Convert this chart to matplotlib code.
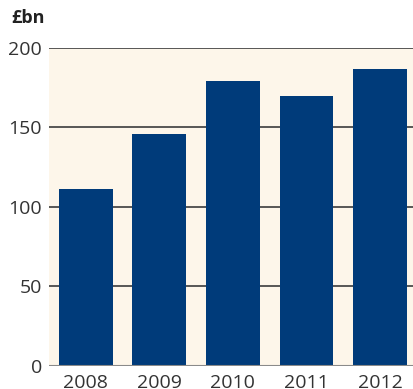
import matplotlib.pyplot as plt

years = ['2008', '2009', '2010', '2011', '2012']
values = [111, 146, 179, 170, 187]
yticks = [0, 50, 100, 150, 200]

plt.rcParams['font.family'] = ['Open Sans', 'DejaVu Sans']

fig = plt.figure(figsize=(4.14, 3.89), dpi=100)
ax = fig.add_axes([0.118, 0.059, 0.882, 0.818])
ax.set_facecolor('#fdf6ea')

ax.bar(range(len(years)), values, width=0.73, color='#003b7a', zorder=3)

for v in yticks[1:]:
    ax.axhline(v, color='#4a4a4a', linewidth=1.3, zorder=2)
ax.axhline(0, color='#8a8a8a', linewidth=1.5, zorder=4)

ax.set_xlim(-0.5, 4.46)
ax.set_ylim(0, 200)
ax.set_yticks(yticks)
ax.set_xticks(range(len(years)))
ax.set_xticklabels(years)
ax.tick_params(axis='both', length=0, labelsize=14, colors='#333333')
ax.tick_params(axis='y', pad=5)
ax.tick_params(axis='x', pad=6)
for s in ax.spines.values():
    s.set_visible(False)

fig.text(0.027, 0.953, '£bn', fontsize=13, fontweight='bold', color='#222222',
         ha='left', va='center')

fig.savefig('out.png', dpi=100)
